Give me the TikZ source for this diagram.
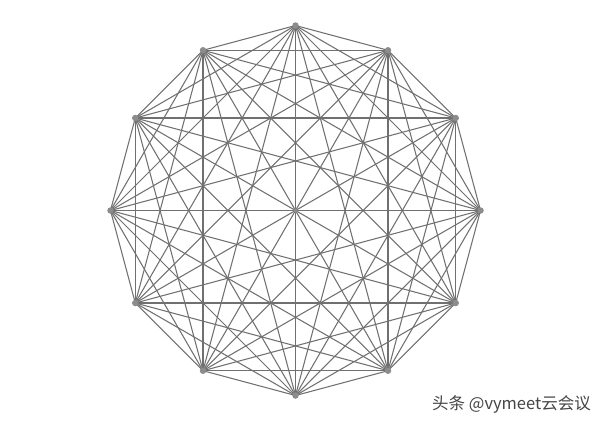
\documentclass[tikz,border=0pt]{standalone}
\usepackage{fontspec}
\newfontfamily\cjk{Noto Sans CJK SC}
\definecolor{edgegray}{HTML}{707070}
\definecolor{dotgray}{HTML}{8C8C8C}
\definecolor{marktext}{HTML}{454545}
\begin{document}
\begin{tikzpicture}[x=1pt,y=-1pt,
  edge/.style={draw=edgegray,line width=1.05pt},
  vdot/.style={circle,fill=dotgray,inner sep=0pt,minimum size=6.5pt},
  wmark/.style={text=marktext,font=\cjk\fontsize{16.5}{18}\selectfont,anchor=east,inner sep=0pt}]
\useasboundingbox[fill=white] (0,0) rectangle (600,424);
\foreach \i in {0,...,11}{
  \coordinate (v\i) at ({295.5+185*sin(30*\i)},{210.5-185*cos(30*\i)});
}
\foreach \i in {0,...,10}{
  \pgfmathtruncatemacro{\s}{\i+1}
  \foreach \j in {\s,...,11}{
    \draw[edge] (v\i) -- (v\j);
  }
}
\foreach \i in {0,...,11}{
  \node[vdot] (d\i) at (v\i) {};
}
\node[vdot,minimum size=4.5pt] (c) at (295.5,210.5) {};
\node[wmark] (wm) at (591,404) {头条 @vymeet云会议};
\end{tikzpicture}
\end{document}
